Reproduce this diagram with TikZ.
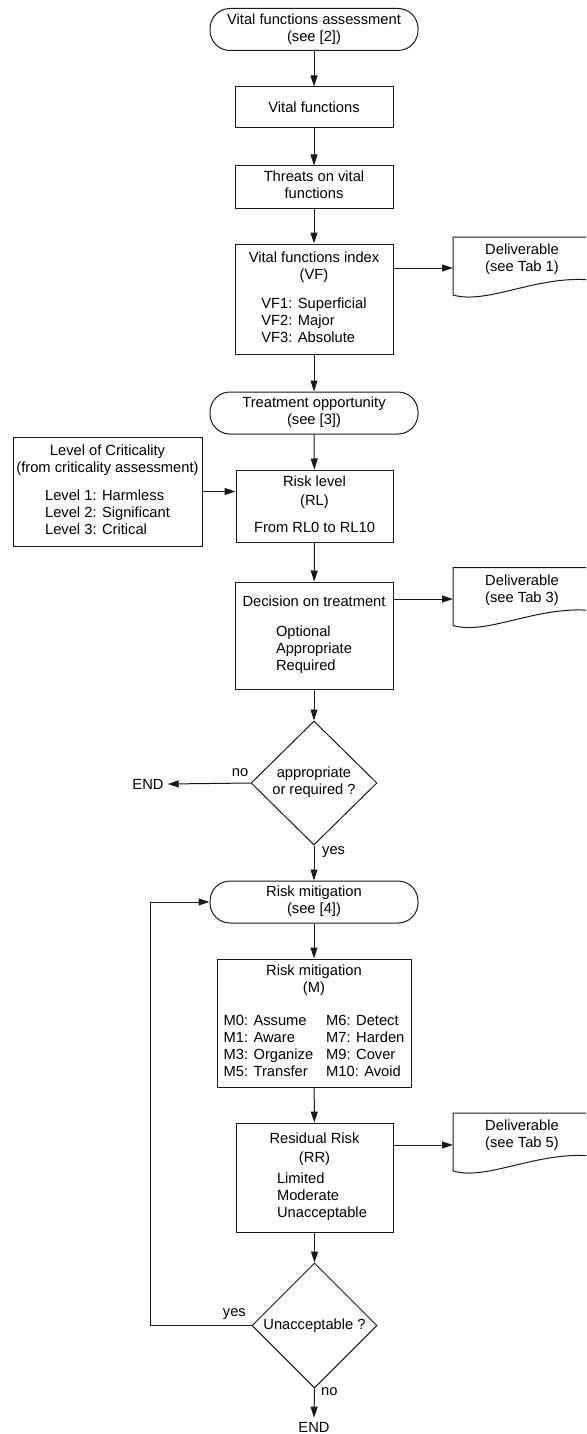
\documentclass[tikz,border=0pt]{standalone}
\usepackage{fontspec}
\setmainfont{Liberation Sans}
\usetikzlibrary{arrows.meta,shapes.geometric}

% stacked centred lines and left-aligned sub-lists
\newcommand{\lines}[1]{\begin{tabular}{@{}c@{}}#1\end{tabular}}
\newcommand{\sublist}[1]{\begin{tabular}[t]{@{}l@{}}#1\end{tabular}}
% document symbol (wavy bottom edge) drawn round a named text node
\newcommand{\docshape}[1]{%
  \draw[flowline] ([shift={(-69,-23)}]#1.center) -- ([shift={(69,-23)}]#1.center)
    -- ([shift={(69,20)}]#1.center)
    .. controls ([shift={(15,15)}]#1.center) and ([shift={(-35,45)}]#1.center) ..
    ([shift={(-69,35)}]#1.center) -- cycle;}

\begin{document}
\begin{tikzpicture}[x=1pt,y=-1pt,
  every node/.style={font=\fontsize{14.7}{17}\selectfont, inner sep=0pt},
  flowline/.style={line width=1pt, draw=black!90},
  arr/.style={flowline, -{Triangle[length=11pt,width=7pt]}},
  stepbox/.style={flowline, rectangle, minimum width=158pt},
  term/.style={flowline, rectangle, rounded corners=20pt,
    minimum width=208pt, minimum height=42pt},
  decision/.style={flowline, diamond},
  endlbl/.style={inner sep=4pt}]

\clip (0,0) rectangle (586,1434);

% main column
\node[term] (t1) at (314,29.5) {\lines{Vital functions assessment\\(see [2])}};
\node[stepbox, minimum height=41pt] (vf0) at (314,107.5) {Vital functions};
\node[stepbox, minimum height=42pt] (thr) at (314,187) {\lines{Threats on vital\\functions}};
\node[stepbox, minimum height=110pt] (vfi) at (314,299)
  {\lines{Vital functions index\\(VF)\\[12pt]\sublist{VF1: Superficial\\VF2: Major\\VF3: Absolute}}};
\node[term] (t2) at (314,413) {\lines{Treatment opportunity\\(see [3])}};
\node[stepbox, minimum width=189pt, minimum height=109pt] (crit) at (107.5,491.5)
  {\lines{Level of Criticality\\(from criticality assessment)\\[11pt]\sublist{Level 1: Harmless\\Level 2: Significant\\Level 3: Critical}}};
\node[stepbox, minimum width=157pt, minimum height=72pt] (rl) at (314.5,506)
  {\lines{Risk level\\[1.5pt](RL)\\[10pt]From RL0 to RL10}};
\node[stepbox, minimum height=107pt] (dec) at (314,635.5)
  {\lines{Decision on treatment\\[13pt]\sublist{Optional\\Appropriate\\Required}}};
\node[decision, minimum width=126pt, minimum height=124pt] (dia1) at (314,783)
  {\lines{appropriate\\or required ?}};
\node[endlbl] (endL) at (148,784) {END};
\node (no1) at (240,773) {no};
\node[anchor=west] (yes1) at (322,852) {yes};

\node[term] (t3) at (314,902) {\lines{Risk mitigation\\(see [4])}};
\node[stepbox, minimum width=194pt, minimum height=128pt] (mit) at (314,1023)
  {\lines{Risk mitigation\\(M)\\[16pt]\begin{tabular}[t]{@{}l@{\hspace{13pt}}l@{}}
    M0: Assume & M6: Detect\\
    M1: Aware & M7: Harden\\
    M3: Organize & M9: Cover\\
    M5: Transfer & M10: Avoid\end{tabular}}};
\node[stepbox, minimum width=157pt, minimum height=109pt] (rr) at (314.5,1177.5)
  {\lines{Residual Risk\\[2pt](RR)\\[4pt]\hspace*{15pt}\sublist{Limited\\Moderate\\Unacceptable}}};
\node[decision, minimum width=125pt, minimum height=125pt] (dia2) at (314.5,1325.5)
  {Unacceptable ?};
\node[anchor=east] (yes2) at (246,1314) {yes};
\node[anchor=west] (no2) at (321,1392) {no};
\node[endlbl, anchor=base] (endB) at (314,1432) {END};

% deliverables
\node (d1) at (522,260) {\lines{Deliverable\\(see Tab 1)}};
\node (d2) at (522,590.5) {\lines{Deliverable\\(see Tab 3)}};
\node (d3) at (522,1136) {\lines{Deliverable\\(see Tab 5)}};
\docshape{d1}
\docshape{d2}
\docshape{d3}
\coordinate (d1a) at ([shift={(-69,8)}]d1.center);
\coordinate (d2a) at ([shift={(-69,8.5)}]d2.center);
\coordinate (d3a) at ([shift={(-69,9)}]d3.center);

% connectors
\draw[arr] (t1) -- (vf0);
\draw[arr] (vf0) -- (thr);
\draw[arr] (thr) -- (vfi);
\draw[arr] (vfi) -- (t2);
\draw[arr] (t2) -- (rl);
\draw[arr] (crit.east) -- (crit.east -| rl.west);
\draw[arr] (rl) -- (dec);
\draw[arr] (dec) -- (dia1);
\draw[arr] (dia1.west) -- (endL.east);
\draw[arr] (dia1.south) -- (t3.north);
\draw[arr] (t3) -- (mit);
\draw[arr] (mit) -- (rr);
\draw[arr] (rr) -- (dia2);
\draw[arr] (dia2.south) -- (endB.north);
\draw[arr] (dia2.west) -- ++(-101,0) |- (t3.west);
\draw[arr] (vfi.east |- d1a) -- (d1a);
\draw[arr] (dec.east |- d2a) -- (d2a);
\draw[arr] (rr.east |- d3a) -- (d3a);
\end{tikzpicture}
\end{document}
